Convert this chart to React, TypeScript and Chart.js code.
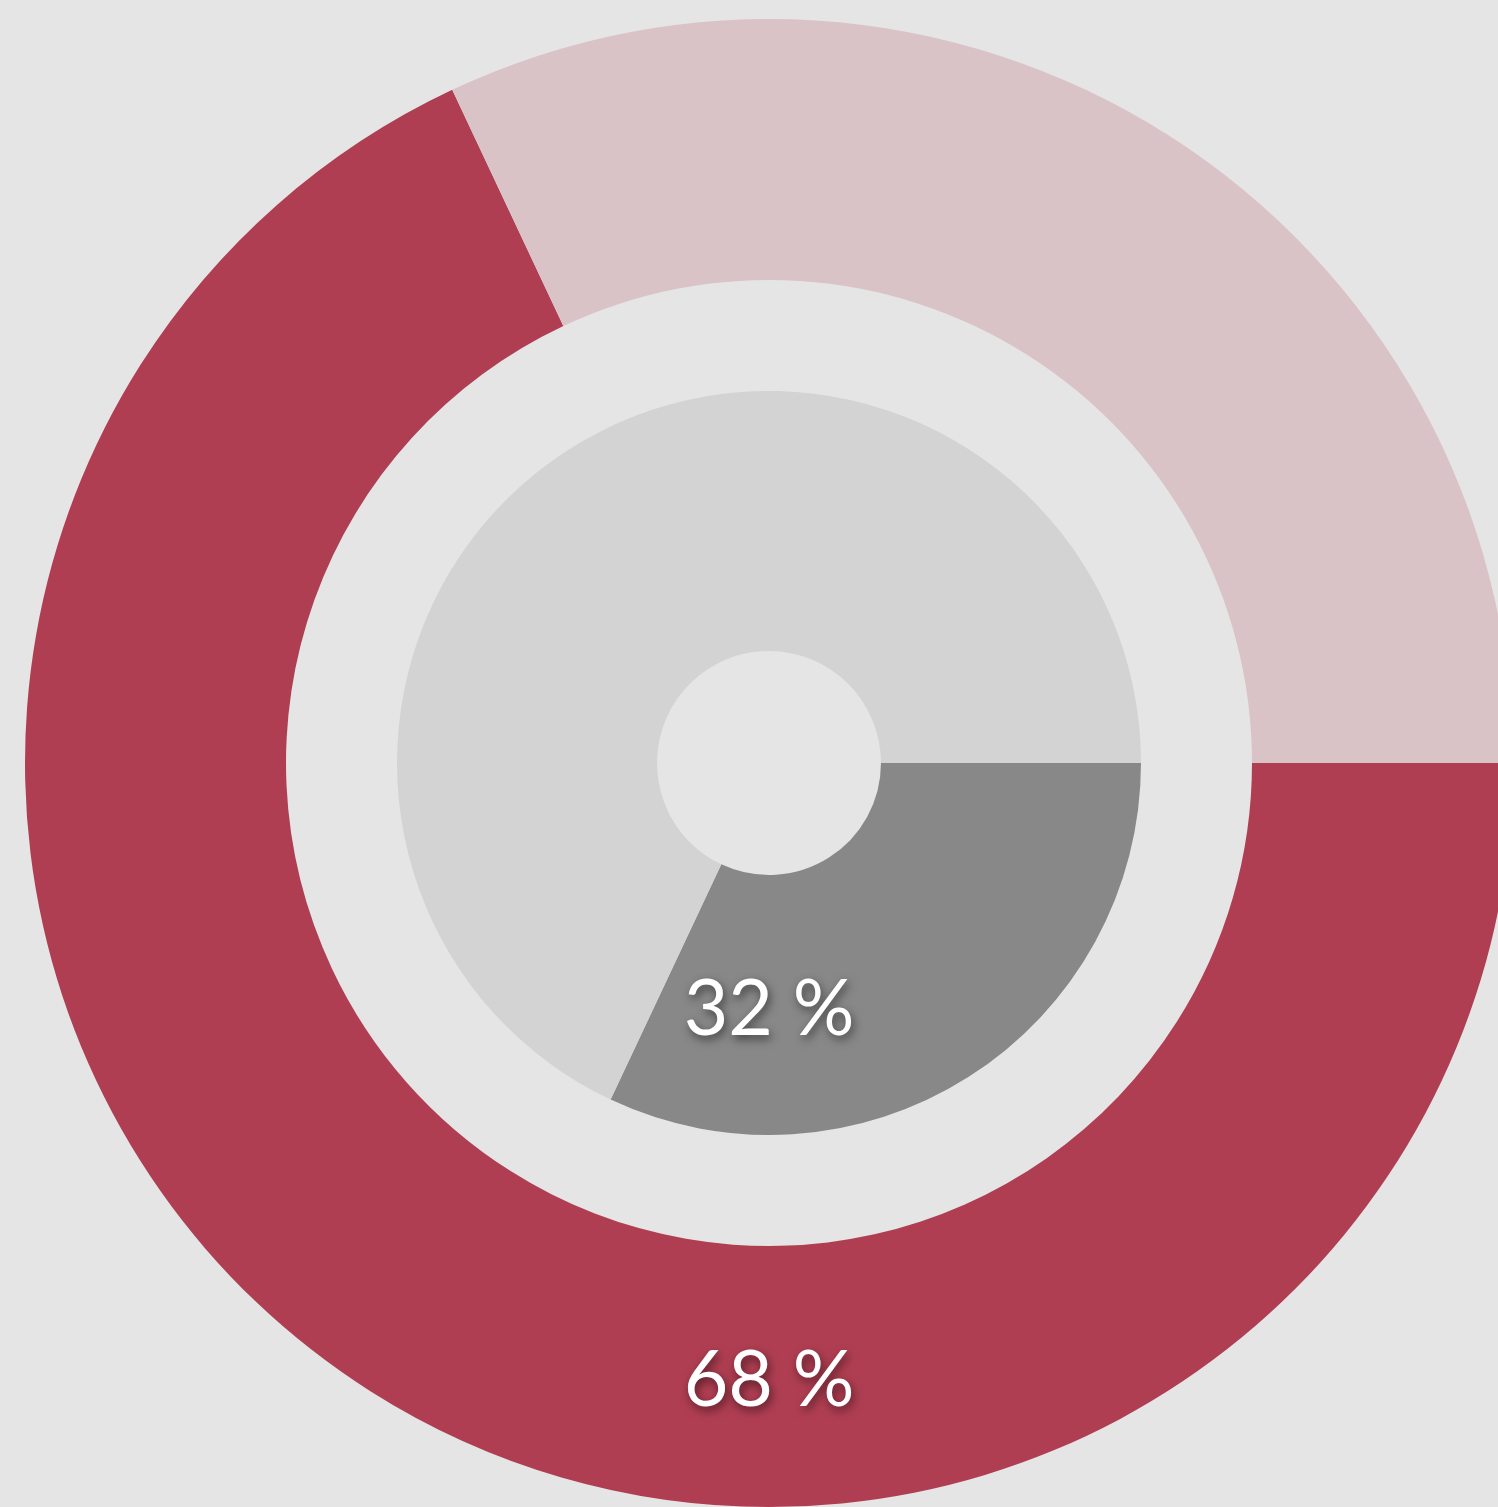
import React, { useEffect, useRef } from "react";
import { Chart, registerables } from "chart.js";

Chart.register(...registerables);

const categories = ["Part", "Rest"];
const outerValues = [68, 32];
const innerValues = [32, 68];
const outerColors = ["#b03e52", "#dac3c6"];
const innerColors = ["#888888", "#d3d3d3"];
const labelTexts = ["68 %", "32 %"];

const labelPlugin = {
  id: "ringLabels",
  afterDatasetsDraw(chart: any) {
    const ctx = chart.ctx;
    const items: Array<[number, string]> = [
      [0, labelTexts[0]],
      [2, labelTexts[1]],
    ];
    ctx.save();
    ctx.font = "400 77px Lato, 'Noto Sans', sans-serif";
    ctx.fillStyle = "#ffffff";
    ctx.textAlign = "center";
    ctx.textBaseline = "middle";
    ctx.shadowColor = "rgba(0,0,0,0.55)";
    ctx.shadowBlur = 10;
    ctx.shadowOffsetX = 2;
    ctx.shadowOffsetY = 4;
    for (const [di, text] of items) {
      const meta = chart.getDatasetMeta(di);
      const arc = meta.data[0] as any;
      if (!arc) continue;
      const { x, y, innerRadius, outerRadius } = arc.getProps(
        ["x", "y", "innerRadius", "outerRadius"],
        true
      );
      const r = (innerRadius + outerRadius) / 2;
      ctx.fillText(text, x, y + r + 5);
    }
    ctx.restore();
  },
};

export default function App() {
  const ref = useRef<HTMLCanvasElement>(null);
  useEffect(() => {
    document.body.style.margin = "0";
    document.body.style.background = "#e5e5e5";
    const chart = new Chart(ref.current as HTMLCanvasElement, {
      type: "doughnut",
      data: {
        labels: categories,
        datasets: [
          {
            data: outerValues,
            backgroundColor: outerColors,
            borderWidth: 0,
            weight: 261,
          },
          {
            data: [100],
            backgroundColor: ["rgba(0,0,0,0)"],
            borderWidth: 0,
            weight: 111,
          },
          {
            data: innerValues,
            backgroundColor: innerColors,
            borderWidth: 0,
            weight: 260,
          },
        ],
      },
      options: {
        responsive: false,
        maintainAspectRatio: false,
        animation: false,
        rotation: 90,
        cutout: "15.05%",
        layout: { padding: 19 },
        plugins: {
          legend: { display: false },
          tooltip: { enabled: false },
        },
      },
      plugins: [labelPlugin],
    });
    return () => chart.destroy();
  }, []);
  return (
    <div
      style={{
        position: "fixed",
        left: 0,
        top: 0,
        width: 1498,
        height: 1507,
        overflow: "hidden",
        background: "#e5e5e5",
      }}
    >
      <canvas
        ref={ref}
        width={1538}
        height={1526}
        style={{ display: "block", width: 1538, height: 1526 }}
      />
    </div>
  );
}
